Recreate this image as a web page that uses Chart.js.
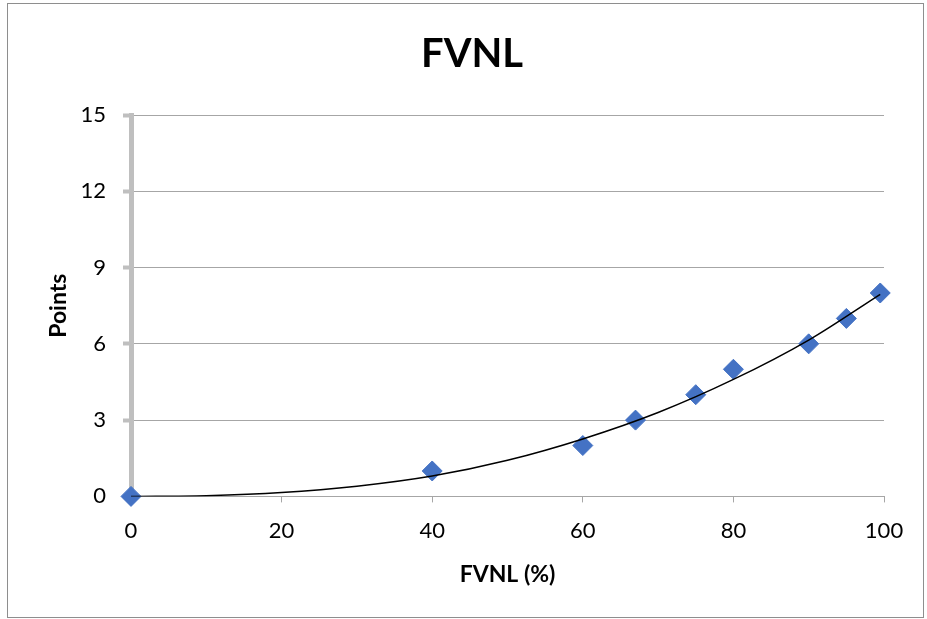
<!DOCTYPE html>
<html>
<head>
<meta charset="utf-8">
<script src="https://cdn.jsdelivr.net/npm/chart.js@4/dist/chart.umd.min.js"></script>
<style>
  html, body { margin: 0; padding: 0; background: #fff; }
  #wrap { position: relative; width: 927px; height: 619px; }
  #frame {
    position: absolute; left: 7px; top: 3px; width: 915px; height: 613px;
    border: 1px solid #8e8e8e; pointer-events: none;
  }
  canvas { position: absolute; left: 0; top: 0; }
</style>
</head>
<body>
<div id="wrap">
  <canvas id="chart" width="927" height="619"></canvas>
  <div id="frame"></div>
</div>
<script>
// ============================================================
//  Datos
// ============================================================
const fvnlPct   = [0, 40, 60, 67, 75, 80, 90, 95, 99.5];
const points    = [0, 1, 2, 3, 4, 5, 6, 7, 8];

// línea de tendencia (leída a ojo sobre la curva)
const trendX    = [0, 10, 20, 30, 40, 50, 60, 70, 80, 90, 99.5];
const trendY    = [0, 0.03, 0.15, 0.40, 0.80, 1.42, 2.26, 3.30, 4.60, 6.15, 7.95];

const xTicks    = [0, 20, 40, 60, 80, 100];
const yTicks    = [0, 3, 6, 9, 12, 15];

const FONT = 'Lato, "Open Sans", sans-serif';

const scatterData = fvnlPct.map((x, i) => ({ x, y: points[i] }));
const trendData   = trendX.map((x, i) => ({ x, y: trendY[i] }));

// el título se centra sobre todo el marco, no sólo sobre el área del gráfico
const centrarTitulo = {
    id: 'centrarTitulo',
    afterLayout(chart) {
        if (chart.titleBlock) {
            chart.titleBlock.left = 17;
            chart.titleBlock.right = chart.width;
        }
    }
};

new Chart(document.getElementById('chart'), {
    type: 'scatter',
    plugins: [centrarTitulo],
    data: {
        datasets: [
            {
                label: 'Tendencia',
                data: trendData,
                showLine: true,
                borderColor: '#000',
                borderWidth: 1.5,
                pointRadius: 0,
                cubicInterpolationMode: 'monotone',
                order: 0
            },
            {
                label: 'FVNL',
                data: scatterData,
                pointStyle: 'rectRot',
                pointRadius: 10,
                backgroundColor: '#4472C4',
                borderColor: '#4472C4',
                borderWidth: 1,
                clip: false,
                order: 1
            }
        ]
    },
    options: {
        responsive: false,
        animation: false,
        layout: { padding: { left: 0, right: 43, top: 0, bottom: 1 } },
        plugins: {
            legend: { display: false },
            tooltip: { enabled: false },
            title: {
                display: true,
                text: 'FVNL',
                color: '#000',
                font: { family: FONT, size: 40, weight: 'bold', lineHeight: 1.2 },
                padding: { top: 30, bottom: 37 }
            }
        },
        scales: {
            x: {
                type: 'linear',
                min: 0,
                max: 100,
                afterBuildTicks: s => { s.ticks = xTicks.map(v => ({ value: v })); },
                ticks: { color: '#000', padding: 18, font: { family: FONT, size: 22, lineHeight: 1.0 } },
                grid: {
                    drawOnChartArea: false,
                    drawTicks: true,
                    tickLength: 6,
                    color: '#a6a6a6'
                },
                border: { color: '#a6a6a6', width: 1 },
                title: {
                    display: true,
                    text: 'FVNL (%)',
                    color: '#000',
                    font: { family: FONT, size: 23, weight: 'bold', lineHeight: 1.2 },
                    padding: { top: 0, bottom: 30 }
                }
            },
            y: {
                type: 'linear',
                min: 0,
                max: 15,
                afterBuildTicks: s => { s.ticks = yTicks.map(v => ({ value: v })); },
                afterFit: s => { s.width = 131; },
                ticks: { color: '#000', padding: 17, font: { family: FONT, size: 22 } },
                grid: {
                    color: '#a6a6a6',
                    lineWidth: 1,
                    tickLength: 8,
                    tickColor: '#bfbfbf',
                    tickWidth: 4
                },
                border: { color: '#bfbfbf', width: 5 },
                title: {
                    display: true,
                    text: 'Points',
                    color: '#000',
                    font: { family: FONT, size: 23, weight: 'bold', lineHeight: 1.2 },
                    padding: { top: 45, bottom: 0 }
                }
            }
        }
    }
});
</script>
</body>
</html>
